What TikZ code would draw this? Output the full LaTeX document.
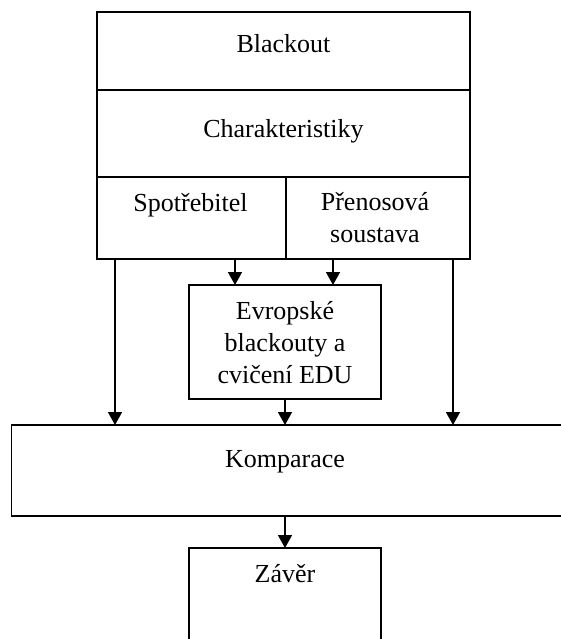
\documentclass[tikz,border=0pt]{standalone}
\usepackage{fontspec}
\setmainfont{Liberation Serif}
\usetikzlibrary{arrows.meta,positioning,calc}
\tikzstyle{box} = [draw, rectangle, line width=0.8pt, inner sep=0pt, outer sep=0pt]
\tikzstyle{txt} = [inner sep=0pt, align=center, font=\fontsize{13pt}{16pt}\selectfont]
\tikzstyle{arrow} = [line width=0.75pt, -{Triangle[length=6.5pt,width=7pt]}]

\begin{document}
\begin{tikzpicture}[x=0.5pt,y=-0.5pt]
\clip (0,0) rectangle (561,639);
\fill[white] (0,0) rectangle (561,639);
% boxes
\draw (283.5,51) node (blackout) [box, minimum width=186.5pt, minimum height=39pt] {};
\draw (283.5,133.5) node (charakt) [box, minimum width=186.5pt, minimum height=43.5pt] {};
\draw (191.5,218) node (spotr) [box, minimum width=94.5pt, minimum height=41pt] {};
\draw (378,218) node (prenos) [box, minimum width=92pt, minimum height=41pt] {};
\draw (285,342) node (evropske) [box, minimum width=96pt, minimum height=57pt] {};
\draw (287.5,470.5) node (komparace) [box, minimum width=276pt, minimum height=45.5pt] {};
\draw (285,600) node (zaver) [box, minimum width=96pt, minimum height=52pt] {};
% texts (base = last line)
\node (tblackout) [txt, anchor=base] at (283.5,52) {Blackout};
\node (tcharakt) [txt, anchor=base] at (283.5,137) {Charakteristiky};
\node (tspotr) [txt, anchor=base] at (190.5,211) {Spotřebitel};
\node (tprenos) [txt, anchor=base] at (375,242) {Přenosová\\soustava};
\node (tevropske) [txt, anchor=base] at (285,383) {Evropské\\blackouty a\\cvičení EDU};
\node (tkomparace) [txt, anchor=base] at (285,467) {Komparace};
\node (tzaver) [txt, anchor=base] at (285,582) {Závěr};
% arrows
\draw[arrow] ([xshift=9pt]spotr.south west) -- ([xshift=9pt]spotr.south west |- komparace.north);
\draw[arrow] ([xshift=-8.5pt]prenos.south east) -- ([xshift=-8.5pt]prenos.south east |- komparace.north);
\draw[arrow] ([xshift=23pt]evropske.north west |- spotr.south) -- ([xshift=23pt]evropske.north west);
\draw[arrow] ([xshift=-24pt]evropske.north east |- prenos.south) -- ([xshift=-24pt]evropske.north east);
\draw[arrow] (evropske.south) -- (evropske.south |- komparace.north);
\draw[arrow] (zaver.north |- komparace.south) -- (zaver.north);
\end{tikzpicture}
\end{document}
